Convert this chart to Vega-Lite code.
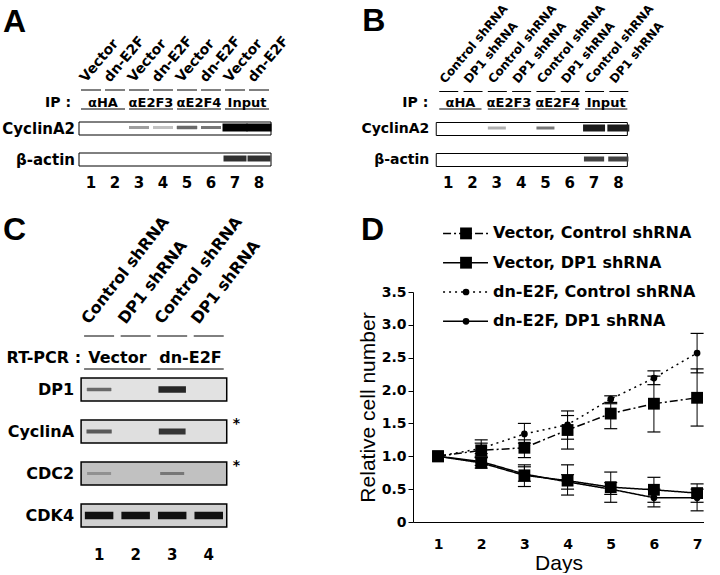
{
  "$schema": "https://vega.github.io/schema/vega-lite/v6.json",
  "background": "white",
  "padding": {"left": 2, "top": 2, "right": 0, "bottom": 0},
  "bounds": "flush",
  "align": "each",
  "columns": 2,
  "spacing": {"row": 109, "column": 142},
  "config": {
    "view": {"stroke": null},
    "text": {"font": "DejaVu Sans", "fontWeight": "bold", "color": "black"},
    "axis": {"domainColor": "black", "tickColor": "black", "labelColor": "black", "titleColor": "black", "grid": false, "labelOverlap": false, "labelFont": "DejaVu Sans", "labelFontWeight": "bold", "labelFontSize": 14, "titleFont": "Liberation Sans", "titleFontWeight": "normal", "titleFontSize": 21}
  },
  "datasets": {
    "panels": [{"panel": "A"}, {"panel": "B"}, {"panel": "C"}, {"panel": "D"}],
    "gelA": [
      {"blot": "CyclinA2", "lane": 1, "level": 0}, {"blot": "CyclinA2", "lane": 2, "level": 0.03},
      {"blot": "CyclinA2", "lane": 3, "level": 0.35}, {"blot": "CyclinA2", "lane": 4, "level": 0.22},
      {"blot": "CyclinA2", "lane": 5, "level": 0.55}, {"blot": "CyclinA2", "lane": 6, "level": 0.5},
      {"blot": "CyclinA2", "lane": 7, "level": 1}, {"blot": "CyclinA2", "lane": 8, "level": 1},
      {"blot": "β-actin", "lane": 1, "level": 0}, {"blot": "β-actin", "lane": 2, "level": 0},
      {"blot": "β-actin", "lane": 3, "level": 0}, {"blot": "β-actin", "lane": 4, "level": 0},
      {"blot": "β-actin", "lane": 5, "level": 0}, {"blot": "β-actin", "lane": 6, "level": 0},
      {"blot": "β-actin", "lane": 7, "level": 0.8}, {"blot": "β-actin", "lane": 8, "level": 0.8}
    ],
    "condA": [
      {"lane": 1, "label": "Vector"}, {"lane": 2, "label": "dn-E2F"}, {"lane": 3, "label": "Vector"}, {"lane": 4, "label": "dn-E2F"},
      {"lane": 5, "label": "Vector"}, {"lane": 6, "label": "dn-E2F"}, {"lane": 7, "label": "Vector"}, {"lane": 8, "label": "dn-E2F"}
    ],
    "ipAB": [
      {"lane": 1, "ab": "αHA"}, {"lane": 2, "ab": "αHA"}, {"lane": 3, "ab": "αE2F3"}, {"lane": 4, "ab": "αE2F3"},
      {"lane": 5, "ab": "αE2F4"}, {"lane": 6, "ab": "αE2F4"}, {"lane": 7, "ab": "Input"}, {"lane": 8, "ab": "Input"}
    ],
    "gelB": [
      {"blot": "CyclinA2", "lane": 1, "level": 0}, {"blot": "CyclinA2", "lane": 2, "level": 0},
      {"blot": "CyclinA2", "lane": 3, "level": 0.28}, {"blot": "CyclinA2", "lane": 4, "level": 0},
      {"blot": "CyclinA2", "lane": 5, "level": 0.5}, {"blot": "CyclinA2", "lane": 6, "level": 0.02},
      {"blot": "CyclinA2", "lane": 7, "level": 0.9}, {"blot": "CyclinA2", "lane": 8, "level": 0.9},
      {"blot": "β-actin", "lane": 1, "level": 0}, {"blot": "β-actin", "lane": 2, "level": 0},
      {"blot": "β-actin", "lane": 3, "level": 0}, {"blot": "β-actin", "lane": 4, "level": 0},
      {"blot": "β-actin", "lane": 5, "level": 0}, {"blot": "β-actin", "lane": 6, "level": 0},
      {"blot": "β-actin", "lane": 7, "level": 0.72}, {"blot": "β-actin", "lane": 8, "level": 0.72}
    ],
    "condB": [
      {"lane": 1, "label": "Control shRNA"}, {"lane": 2, "label": "DP1 shRNA"}, {"lane": 3, "label": "Control shRNA"}, {"lane": 4, "label": "DP1 shRNA"},
      {"lane": 5, "label": "Control shRNA"}, {"lane": 6, "label": "DP1 shRNA"}, {"lane": 7, "label": "Control shRNA"}, {"lane": 8, "label": "DP1 shRNA"}
    ],
    "gelC": [
      {"blot": "DP1", "lane": 1, "level": 0.55, "bg": 0.1}, {"blot": "DP1", "lane": 2, "level": 0.1, "bg": 0.1},
      {"blot": "DP1", "lane": 3, "level": 0.85, "bg": 0.1}, {"blot": "DP1", "lane": 4, "level": 0.12, "bg": 0.1},
      {"blot": "CyclinA", "lane": 1, "level": 0.62, "bg": 0.11}, {"blot": "CyclinA", "lane": 2, "level": 0.12, "bg": 0.11},
      {"blot": "CyclinA", "lane": 3, "level": 0.78, "bg": 0.11}, {"blot": "CyclinA", "lane": 4, "level": 0.15, "bg": 0.11},
      {"blot": "CDC2", "lane": 1, "level": 0.4, "bg": 0.22}, {"blot": "CDC2", "lane": 2, "level": 0.22, "bg": 0.22},
      {"blot": "CDC2", "lane": 3, "level": 0.5, "bg": 0.22}, {"blot": "CDC2", "lane": 4, "level": 0.23, "bg": 0.22},
      {"blot": "CDK4", "lane": 1, "level": 0.95, "bg": 0.16}, {"blot": "CDK4", "lane": 2, "level": 0.95, "bg": 0.16},
      {"blot": "CDK4", "lane": 3, "level": 0.95, "bg": 0.16}, {"blot": "CDK4", "lane": 4, "level": 0.95, "bg": 0.16}
    ],
    "condC": [
      {"lane": 1, "label": "Control shRNA", "group": "Vector"}, {"lane": 2, "label": "DP1 shRNA", "group": "Vector"},
      {"lane": 3, "label": "Control shRNA", "group": "dn-E2F"}, {"lane": 4, "label": "DP1 shRNA", "group": "dn-E2F"}
    ],
    "noteC": [{"blot": "CyclinA", "note": "*"}, {"blot": "CDC2", "note": "*"}],
    "growth": [
      {"series": "Vector, Control shRNA", "day": 1, "value": 1.0},
      {"series": "Vector, Control shRNA", "day": 2, "value": 1.09, "lo": 1.0, "hi": 1.2},
      {"series": "Vector, Control shRNA", "day": 3, "value": 1.13, "lo": 0.98, "hi": 1.25},
      {"series": "Vector, Control shRNA", "day": 4, "value": 1.4, "lo": 1.11, "hi": 1.69},
      {"series": "Vector, Control shRNA", "day": 5, "value": 1.65, "lo": 1.42, "hi": 1.8},
      {"series": "Vector, Control shRNA", "day": 6, "value": 1.8, "lo": 1.37, "hi": 2.22},
      {"series": "Vector, Control shRNA", "day": 7, "value": 1.89, "lo": 1.46, "hi": 2.33},
      {"series": "Vector, DP1 shRNA", "day": 1, "value": 1.0},
      {"series": "Vector, DP1 shRNA", "day": 2, "value": 0.9, "lo": 0.82, "hi": 0.98},
      {"series": "Vector, DP1 shRNA", "day": 3, "value": 0.71, "lo": 0.54, "hi": 0.87},
      {"series": "Vector, DP1 shRNA", "day": 4, "value": 0.63, "lo": 0.41, "hi": 0.87},
      {"series": "Vector, DP1 shRNA", "day": 5, "value": 0.53, "lo": 0.3, "hi": 0.76},
      {"series": "Vector, DP1 shRNA", "day": 6, "value": 0.49, "lo": 0.3, "hi": 0.68},
      {"series": "Vector, DP1 shRNA", "day": 7, "value": 0.44, "lo": 0.3, "hi": 0.58},
      {"series": "dn-E2F, Control shRNA", "day": 1, "value": 1.0},
      {"series": "dn-E2F, Control shRNA", "day": 2, "value": 1.12, "lo": 1.04, "hi": 1.25},
      {"series": "dn-E2F, Control shRNA", "day": 3, "value": 1.34, "lo": 1.2, "hi": 1.5},
      {"series": "dn-E2F, Control shRNA", "day": 4, "value": 1.48, "lo": 1.26, "hi": 1.62},
      {"series": "dn-E2F, Control shRNA", "day": 5, "value": 1.87, "lo": 1.82, "hi": 1.92},
      {"series": "dn-E2F, Control shRNA", "day": 6, "value": 2.19, "lo": 2.09, "hi": 2.3},
      {"series": "dn-E2F, Control shRNA", "day": 7, "value": 2.57, "lo": 2.27, "hi": 2.87},
      {"series": "dn-E2F, DP1 shRNA", "day": 1, "value": 1.0},
      {"series": "dn-E2F, DP1 shRNA", "day": 2, "value": 0.92, "lo": 0.86, "hi": 0.98},
      {"series": "dn-E2F, DP1 shRNA", "day": 3, "value": 0.73, "lo": 0.62, "hi": 0.84},
      {"series": "dn-E2F, DP1 shRNA", "day": 4, "value": 0.61, "lo": 0.5, "hi": 0.72},
      {"series": "dn-E2F, DP1 shRNA", "day": 5, "value": 0.5, "lo": 0.42, "hi": 0.6},
      {"series": "dn-E2F, DP1 shRNA", "day": 6, "value": 0.37, "lo": 0.23, "hi": 0.5},
      {"series": "dn-E2F, DP1 shRNA", "day": 7, "value": 0.37, "lo": 0.17, "hi": 0.5}
    ],
    "legendD": [
      {"series": "Vector, Control shRNA", "label": "Vector, Control shRNA", "rank": 1},
      {"series": "Vector, DP1 shRNA", "label": "Vector, DP1 shRNA", "rank": 2},
      {"series": "dn-E2F, Control shRNA", "label": "dn-E2F, Control shRNA", "rank": 3},
      {"series": "dn-E2F, DP1 shRNA", "label": "dn-E2F, DP1 shRNA", "rank": 4}
    ]
  },
  "concat": [
    {
      "width": 192, "height": 93,
      "layer": [
        {
          "data": {"name": "gelA"},
          "mark": {"type": "rect", "fill": "white", "stroke": "black", "strokeWidth": 1, "xOffset": -12, "x2Offset": 12, "yOffset": -6.75, "y2Offset": 6.25},
          "encoding": {
            "x": {"aggregate": "min", "field": "lane", "type": "quantitative", "scale": {"domain": [0.5, 8.5], "nice": false, "zero": false}, "axis": null},
            "x2": {"aggregate": "max", "field": "lane"},
            "y": {"field": "blot", "type": "nominal", "scale": {"type": "point", "padding": 0, "domain": ["cond", "s1", "ip", "s3", "s4", "CyclinA2", "s6", "s7", "s8", "β-actin", "s10", "s11", "lane"]}, "axis": null},
            "y2": {"field": "blot"}
          }
        },
        {
          "data": {"name": "gelA"},
          "transform": [{"filter": "datum.level > 0.1"}],
          "mark": {"type": "rect", "xOffset": -10, "x2Offset": 10, "yOffset": -2.75, "y2Offset": 0.25},
          "encoding": {
            "x": {"field": "lane", "type": "quantitative"},
            "x2": {"field": "lane"},
            "y": {"field": "blot", "type": "nominal"},
            "y2": {"field": "blot"},
            "color": {"field": "level", "type": "quantitative", "scale": {"domain": [0, 1], "range": ["#ffffff", "#000000"]}, "legend": null},
            "stroke": {"field": "level", "type": "quantitative", "scale": {"domain": [0, 1], "range": ["#ffffff", "#000000"]}, "legend": null},
            "strokeWidth": {"field": "level", "type": "quantitative", "scale": {"domain": [0.5, 1], "range": [0, 5], "clamp": true}, "legend": null}
          }
        },
        {
          "data": {"name": "gelA"},
          "mark": {"type": "text", "align": "right", "baseline": "middle", "fontSize": 15, "xOffset": -16},
          "encoding": {
            "x": {"aggregate": "min", "field": "lane", "type": "quantitative"},
            "y": {"field": "blot", "type": "nominal"},
            "text": {"field": "blot"}
          }
        },
        {
          "data": {"name": "condA"},
          "mark": {"type": "text", "align": "left", "baseline": "alphabetic", "angle": 310, "fontSize": 14, "xOffset": -5, "yOffset": -7},
          "encoding": {
            "x": {"field": "lane", "type": "quantitative"},
            "y": {"datum": "cond"},
            "text": {"field": "label"}
          }
        },
        {
          "data": {"name": "condA"},
          "mark": {"type": "rule", "color": "black", "strokeWidth": 1, "xOffset": -10, "x2Offset": 10},
          "encoding": {
            "x": {"field": "lane", "type": "quantitative"},
            "x2": {"field": "lane"},
            "y": {"datum": "cond"}
          }
        },
        {
          "data": {"name": "ipAB"},
          "mark": {"type": "text", "baseline": "middle", "fontSize": 13, "yOffset": -2.5},
          "encoding": {
            "x": {"aggregate": "mean", "field": "lane", "type": "quantitative"},
            "y": {"datum": "ip"},
            "text": {"field": "ab"}
          }
        },
        {
          "data": {"name": "ipAB"},
          "mark": {"type": "text", "align": "right", "baseline": "middle", "fontSize": 14, "xOffset": -20, "yOffset": -2.5, "text": "IP :"},
          "encoding": {
            "x": {"aggregate": "min", "field": "lane", "type": "quantitative"},
            "y": {"datum": "ip"}
          }
        },
        {
          "data": {"name": "ipAB"},
          "mark": {"type": "rule", "color": "black", "strokeWidth": 1, "xOffset": -10, "x2Offset": 10, "yOffset": 3.5},
          "encoding": {
            "x": {"aggregate": "min", "field": "lane", "type": "quantitative"},
            "x2": {"aggregate": "max", "field": "lane"},
            "y": {"datum": "ip"},
            "detail": {"field": "ab"}
          }
        },
        {
          "data": {"name": "condA"},
          "mark": {"type": "text", "baseline": "middle", "fontSize": 15},
          "encoding": {
            "x": {"field": "lane", "type": "quantitative"},
            "y": {"datum": "lane"},
            "text": {"field": "lane"}
          }
        },
        {
          "data": {"name": "panels"},
          "transform": [{"filter": "datum.panel == 'A'"}],
          "mark": {"type": "text", "align": "left", "baseline": "alphabetic", "font": "Liberation Sans", "fontSize": 32, "xOffset": -88, "yOffset": -58},
          "encoding": {"x": {"datum": 1}, "y": {"datum": "cond"}, "text": {"field": "panel"}}
        }
      ]
    },
    {
      "width": 217.5, "height": 93,
      "layer": [
        {
          "data": {"name": "gelB"},
          "mark": {"type": "rect", "fill": "white", "stroke": "black", "strokeWidth": 1, "xOffset": -12, "x2Offset": 9, "yOffset": -6.25, "y2Offset": 6.75},
          "encoding": {
            "x": {"aggregate": "min", "field": "lane", "type": "quantitative", "scale": {"domain": [-0.45, 8.5], "nice": false, "zero": false}, "axis": null},
            "x2": {"aggregate": "max", "field": "lane"},
            "y": {"field": "blot", "type": "nominal", "scale": {"type": "point", "padding": 0, "domain": ["cond", "s1", "ip", "s3", "s4", "CyclinA2", "s6", "s7", "s8", "β-actin", "s10", "s11", "lane"]}, "axis": null},
            "y2": {"field": "blot"}
          }
        },
        {
          "data": {"name": "gelB"},
          "transform": [{"filter": "datum.level > 0.1"}],
          "mark": {"type": "rect", "xOffset": -9, "x2Offset": 9, "yOffset": -2.25, "y2Offset": 0.75},
          "encoding": {
            "x": {"field": "lane", "type": "quantitative"},
            "x2": {"field": "lane"},
            "y": {"field": "blot", "type": "nominal"},
            "y2": {"field": "blot"},
            "color": {"field": "level", "type": "quantitative", "scale": {"domain": [0, 1], "range": ["#ffffff", "#000000"]}, "legend": null},
            "stroke": {"field": "level", "type": "quantitative", "scale": {"domain": [0, 1], "range": ["#ffffff", "#000000"]}, "legend": null},
            "strokeWidth": {"field": "level", "type": "quantitative", "scale": {"domain": [0.5, 1], "range": [0, 5], "clamp": true}, "legend": null}
          }
        },
        {
          "data": {"name": "gelB"},
          "mark": {"type": "text", "align": "right", "baseline": "middle", "fontSize": 14, "xOffset": -19},
          "encoding": {
            "x": {"aggregate": "min", "field": "lane", "type": "quantitative"},
            "y": {"field": "blot", "type": "nominal"},
            "text": {"field": "blot"}
          }
        },
        {
          "data": {"name": "condB"},
          "mark": {"type": "text", "align": "left", "baseline": "alphabetic", "angle": 310, "fontSize": 12, "xOffset": -3, "yOffset": -6},
          "encoding": {
            "x": {"field": "lane", "type": "quantitative"},
            "y": {"datum": "cond"},
            "text": {"field": "label"}
          }
        },
        {
          "data": {"name": "condB"},
          "mark": {"type": "rule", "color": "black", "strokeWidth": 1, "xOffset": -9, "x2Offset": 10, "yOffset": 1.5},
          "encoding": {
            "x": {"field": "lane", "type": "quantitative"},
            "x2": {"field": "lane"},
            "y": {"datum": "cond"}
          }
        },
        {
          "data": {"name": "ipAB"},
          "mark": {"type": "text", "baseline": "middle", "fontSize": 13, "yOffset": -2.5},
          "encoding": {
            "x": {"aggregate": "mean", "field": "lane", "type": "quantitative"},
            "y": {"datum": "ip"},
            "text": {"field": "ab"}
          }
        },
        {
          "data": {"name": "ipAB"},
          "mark": {"type": "text", "align": "right", "baseline": "middle", "fontSize": 14, "xOffset": -20, "yOffset": -2.5, "text": "IP :"},
          "encoding": {
            "x": {"aggregate": "min", "field": "lane", "type": "quantitative"},
            "y": {"datum": "ip"}
          }
        },
        {
          "data": {"name": "ipAB"},
          "mark": {"type": "rule", "color": "black", "strokeWidth": 1, "xOffset": -9, "x2Offset": 9, "yOffset": 3.5},
          "encoding": {
            "x": {"aggregate": "min", "field": "lane", "type": "quantitative"},
            "x2": {"aggregate": "max", "field": "lane"},
            "y": {"datum": "ip"},
            "detail": {"field": "ab"}
          }
        },
        {
          "data": {"name": "condB"},
          "mark": {"type": "text", "baseline": "middle", "fontSize": 15},
          "encoding": {
            "x": {"field": "lane", "type": "quantitative"},
            "y": {"datum": "lane"},
            "text": {"field": "lane"}
          }
        },
        {
          "data": {"name": "panels"},
          "transform": [{"filter": "datum.panel == 'B'"}],
          "mark": {"type": "text", "align": "left", "baseline": "alphabetic", "font": "Liberation Sans", "fontSize": 32, "xOffset": -86, "yOffset": -59},
          "encoding": {"x": {"datum": 1}, "y": {"datum": "cond"}, "text": {"field": "panel"}}
        }
      ]
    },
    {
      "width": 148, "height": 262.5,
      "layer": [
        {
          "data": {"name": "gelC"},
          "mark": {"type": "rect", "stroke": "black", "strokeWidth": 1.5, "xOffset": -18, "x2Offset": 18, "yOffset": -8.5, "y2Offset": 14.5},
          "encoding": {
            "x": {"aggregate": "min", "field": "lane", "type": "quantitative", "scale": {"domain": [0.45, 4.5], "nice": false, "zero": false}, "axis": null},
            "x2": {"aggregate": "max", "field": "lane"},
            "y": {"field": "blot", "type": "nominal", "scale": {"type": "point", "padding": 0, "domain": ["c0", "c1", "c2", "c3", "cond", "c5", "rt", "c7", "c8", "DP1", "c10", "c11", "c12", "CyclinA", "c14", "c15", "c16", "CDC2", "c18", "c19", "c20", "CDK4", "c22", "c23", "c24", "lane"]}, "axis": null},
            "y2": {"field": "blot"},
            "fill": {"aggregate": "max", "field": "bg", "type": "quantitative", "scale": {"domain": [0, 1], "range": ["#ffffff", "#000000"]}, "legend": null}
          }
        },
        {
          "data": {"name": "gelC"},
          "transform": [{"filter": "datum.level > 0.3"}],
          "mark": {"type": "rect", "xOffset": -12, "x2Offset": 12, "yOffset": 1.5, "y2Offset": 4.5},
          "encoding": {
            "x": {"field": "lane", "type": "quantitative"},
            "x2": {"field": "lane"},
            "y": {"field": "blot", "type": "nominal"},
            "y2": {"field": "blot"},
            "color": {"field": "level", "type": "quantitative", "scale": {"domain": [0, 1], "range": ["#ffffff", "#000000"]}, "legend": null},
            "stroke": {"field": "level", "type": "quantitative", "scale": {"domain": [0, 1], "range": ["#ffffff", "#000000"]}, "legend": null},
            "strokeWidth": {"field": "level", "type": "quantitative", "scale": {"domain": [0.5, 1], "range": [0, 5], "clamp": true}, "legend": null}
          }
        },
        {
          "data": {"name": "gelC"},
          "mark": {"type": "text", "align": "right", "baseline": "middle", "fontSize": 16, "xOffset": -25, "yOffset": 3},
          "encoding": {
            "x": {"aggregate": "min", "field": "lane", "type": "quantitative"},
            "y": {"field": "blot", "type": "nominal"},
            "text": {"field": "blot"}
          }
        },
        {
          "data": {"name": "noteC"},
          "mark": {"type": "text", "align": "left", "baseline": "middle", "fontSize": 14, "xOffset": 24, "yOffset": -4.5},
          "encoding": {
            "x": {"datum": 4},
            "y": {"field": "blot", "type": "nominal"},
            "text": {"field": "note"}
          }
        },
        {
          "data": {"name": "condC"},
          "mark": {"type": "text", "align": "left", "baseline": "alphabetic", "angle": 308, "fontSize": 16, "xOffset": -10, "yOffset": -9},
          "encoding": {
            "x": {"field": "lane", "type": "quantitative"},
            "y": {"datum": "cond"},
            "text": {"field": "label"}
          }
        },
        {
          "data": {"name": "condC"},
          "mark": {"type": "rule", "color": "black", "strokeWidth": 1, "xOffset": -15, "x2Offset": 15, "yOffset": 2},
          "encoding": {
            "x": {"field": "lane", "type": "quantitative"},
            "x2": {"field": "lane"},
            "y": {"datum": "cond"}
          }
        },
        {
          "data": {"name": "condC"},
          "mark": {"type": "text", "baseline": "middle", "fontSize": 16, "yOffset": 3},
          "encoding": {
            "x": {"aggregate": "mean", "field": "lane", "type": "quantitative"},
            "y": {"datum": "rt"},
            "text": {"field": "group"}
          }
        },
        {
          "data": {"name": "condC"},
          "mark": {"type": "text", "align": "right", "baseline": "middle", "fontSize": 16, "xOffset": -18, "yOffset": 3, "text": "RT-PCR :"},
          "encoding": {
            "x": {"aggregate": "min", "field": "lane", "type": "quantitative"},
            "y": {"datum": "rt"}
          }
        },
        {
          "data": {"name": "condC"},
          "mark": {"type": "rule", "color": "black", "strokeWidth": 1, "xOffset": -15, "x2Offset": 15, "yOffset": 14},
          "encoding": {
            "x": {"aggregate": "min", "field": "lane", "type": "quantitative"},
            "x2": {"aggregate": "max", "field": "lane"},
            "y": {"datum": "rt"},
            "detail": {"field": "group"}
          }
        },
        {
          "data": {"name": "condC"},
          "mark": {"type": "text", "baseline": "middle", "fontSize": 15},
          "encoding": {
            "x": {"field": "lane", "type": "quantitative"},
            "y": {"datum": "lane"},
            "text": {"field": "lane"}
          }
        },
        {
          "data": {"name": "panels"},
          "transform": [{"filter": "datum.panel == 'C'"}],
          "mark": {"type": "text", "align": "left", "baseline": "alphabetic", "font": "Liberation Sans", "fontSize": 32, "xOffset": -96, "yOffset": -52},
          "encoding": {"x": {"datum": 1}, "y": {"datum": "c0"}, "text": {"field": "panel"}}
        }
      ]
    },
    {
      "width": 291, "height": 230,
      "resolve": {"scale": {"y": "independent"}},
      "layer": [
        {
          "layer": [
            {
              "data": {"name": "growth"},
              "mark": {"type": "line", "color": "black", "strokeWidth": 1.5},
              "encoding": {
                "x": {"field": "day", "type": "quantitative",
                  "scale": {"domain": [0.42, 7.16], "nice": false, "zero": false},
                  "axis": {"values": [1, 2, 3, 4, 5, 6, 7], "ticks": false, "labelPadding": 15, "title": "Days", "titlePadding": 1}},
                "y": {"field": "value", "type": "quantitative",
                  "scale": {"domain": [0, 3.5], "nice": false, "zero": false},
                  "axis": {"values": [0, 0.5, 1, 1.5, 2, 2.5, 3, 3.5], "tickCount": 8, "labelExpr": "datum.value == 0 ? '0' : format(datum.value, '.1f')", "tickSize": 5, "labelPadding": 2, "title": "Relative cell number", "titlePadding": 3}},
                "strokeDash": {"field": "series", "type": "nominal",
                  "scale": {"domain": ["Vector, Control shRNA", "Vector, DP1 shRNA", "dn-E2F, Control shRNA", "dn-E2F, DP1 shRNA"], "range": [[8, 3, 2, 3], [1, 0], [2, 4], [1, 0]]},
                  "legend": null}
              }
            },
            {
              "data": {"name": "growth"},
              "transform": [{"filter": "isValid(datum.lo)"}],
              "mark": {"type": "rule", "color": "black", "strokeWidth": 1},
              "encoding": {
                "x": {"field": "day", "type": "quantitative"},
                "y": {"field": "lo", "type": "quantitative"},
                "y2": {"field": "hi"}
              }
            },
            {
              "data": {"name": "growth"},
              "transform": [{"filter": "isValid(datum.lo)"}],
              "mark": {"type": "tick", "orient": "horizontal", "color": "black", "size": 13, "thickness": 1.2, "opacity": 1},
              "encoding": {
                "x": {"field": "day", "type": "quantitative"},
                "y": {"field": "lo", "type": "quantitative"}
              }
            },
            {
              "data": {"name": "growth"},
              "transform": [{"filter": "isValid(datum.hi)"}],
              "mark": {"type": "tick", "orient": "horizontal", "color": "black", "size": 13, "thickness": 1.2, "opacity": 1},
              "encoding": {
                "x": {"field": "day", "type": "quantitative"},
                "y": {"field": "hi", "type": "quantitative"}
              }
            },
            {
              "data": {"name": "growth"},
              "transform": [{"filter": "indexof(datum.series, 'Vector') == 0"}],
              "mark": {"type": "point", "shape": "square", "filled": true, "size": 140, "color": "black", "opacity": 1},
              "encoding": {
                "x": {"field": "day", "type": "quantitative"},
                "y": {"field": "value", "type": "quantitative"}
              }
            },
            {
              "data": {"name": "growth"},
              "transform": [{"filter": "indexof(datum.series, 'dn-E2F') == 0"}],
              "mark": {"type": "point", "shape": "circle", "filled": true, "size": 45, "color": "black", "opacity": 1},
              "encoding": {
                "x": {"field": "day", "type": "quantitative"},
                "y": {"field": "value", "type": "quantitative"}
              }
            },
            {
              "data": {"name": "panels"},
              "transform": [{"filter": "datum.panel == 'D'"}],
              "mark": {"type": "text", "align": "left", "baseline": "alphabetic", "font": "Liberation Sans", "fontSize": 32, "xOffset": -77, "yOffset": -52},
              "encoding": {"x": {"datum": 1}, "y": {"datum": 3.5}, "text": {"field": "panel"}}
            }
          ]
        },
        {
          "data": {"name": "legendD"},
          "layer": [
            {
              "mark": {"type": "rule", "color": "black", "strokeWidth": 1.5},
              "encoding": {
                "x": {"datum": 1.116},
                "x2": {"datum": 2.157},
                "y": {"field": "rank", "type": "quantitative", "scale": {"domain": [3, 10.85], "reverse": true, "nice": false, "zero": false}, "axis": null},
                "strokeDash": {"field": "series", "type": "nominal", "legend": null}
              }
            },
            {
              "transform": [{"filter": "indexof(datum.series, 'Vector') == 0"}],
              "mark": {"type": "point", "shape": "square", "filled": true, "size": 140, "color": "black", "opacity": 1},
              "encoding": {"x": {"datum": 1.648}, "y": {"field": "rank", "type": "quantitative", "axis": null}}
            },
            {
              "transform": [{"filter": "indexof(datum.series, 'dn-E2F') == 0"}],
              "mark": {"type": "point", "shape": "circle", "filled": true, "size": 45, "color": "black", "opacity": 1},
              "encoding": {"x": {"datum": 1.648}, "y": {"field": "rank", "type": "quantitative", "axis": null}}
            },
            {
              "mark": {"type": "text", "align": "left", "baseline": "middle", "fontSize": 16},
              "encoding": {
                "x": {"datum": 2.273},
                "y": {"field": "rank", "type": "quantitative", "axis": null},
                "text": {"field": "label"}
              }
            }
          ]
        }
      ]
    }
  ]
}
